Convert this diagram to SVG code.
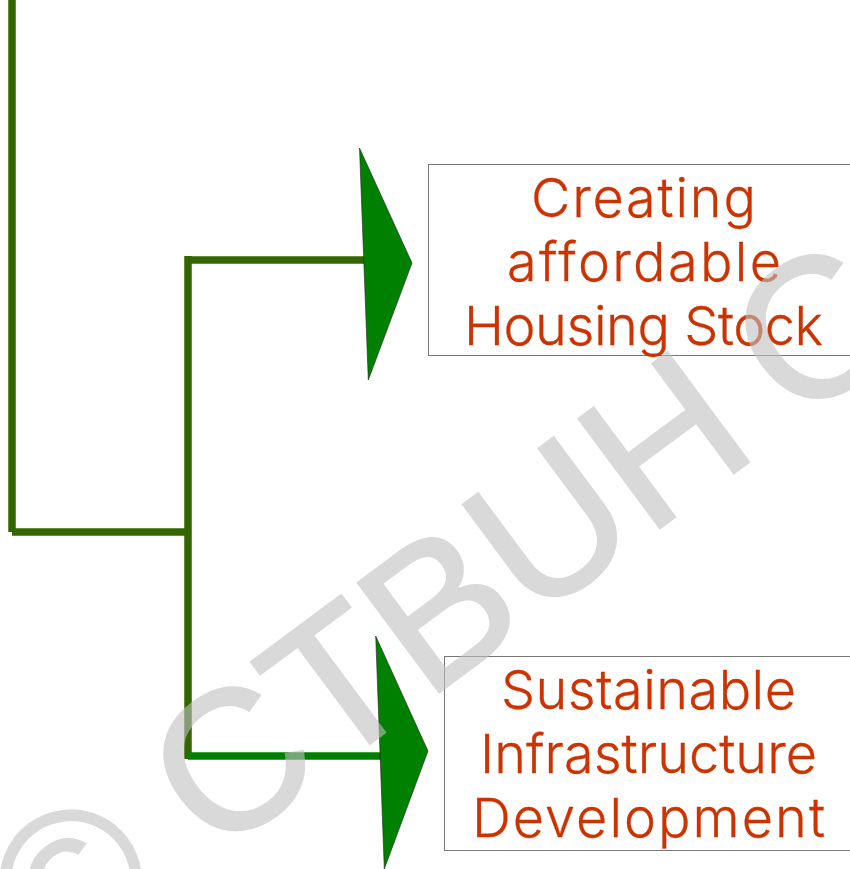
<svg xmlns="http://www.w3.org/2000/svg" width="850" height="869" viewBox="0 0 850 869">
<style>
.wm{font-family:"Liberation Sans",Arial,sans-serif;font-size:198px;fill:#c0c0c0;stroke:#c0c0c0;stroke-width:2.500;opacity:.6}
.box{fill:#fff;stroke:#777;stroke-width:1}
.t{font-family:"Inter","Liberation Sans",sans-serif;font-weight:300;font-size:54px;fill:#cc3300;stroke:#cc3300;stroke-width:.3}
.ln{stroke:#336600;stroke-width:7.500;fill:none}
.ln2{stroke:#008000;stroke-width:7.500;fill:none}
.ar{fill:#008000;stroke:#222;stroke-width:.6}
</style>
<rect width="850" height="869" fill="#fff"/>
<g id="box1"><rect class="box" x="428.500" y="164.500" width="425" height="191"/></g>
<g id="box2"><rect class="box" x="444.500" y="656.500" width="410" height="194"/></g>
<g id="connectors">
<path class="ln" d="M12 0V532M12 532H188M188 256V759M188 260H368"/>
<path class="ln2" d="M188 756H384"/>
<path class="ar" d="M359.500 148L412 263L368.300 380Z"/>
<path class="ar" d="M375.700 636L428 751L384.300 869Z"/>
</g>
<g id="label1"><text class="t" x="531" y="217" textLength="225">Creating</text><text class="t" x="507" y="281" textLength="274">affordable</text><text class="t" x="464" y="345" textLength="359">Housing Stock</text></g>
<g id="label2"><text class="t" x="501" y="709" textLength="295">Sustainable</text><text class="t" x="480" y="773" textLength="337">Infrastructure</text><text class="t" x="472" y="837" textLength="353">Development</text></g>
<text class="wm" transform="translate(53 979) rotate(-36.600)">© CTBUH <tspan dx="-12">C</tspan></text>
</svg>
